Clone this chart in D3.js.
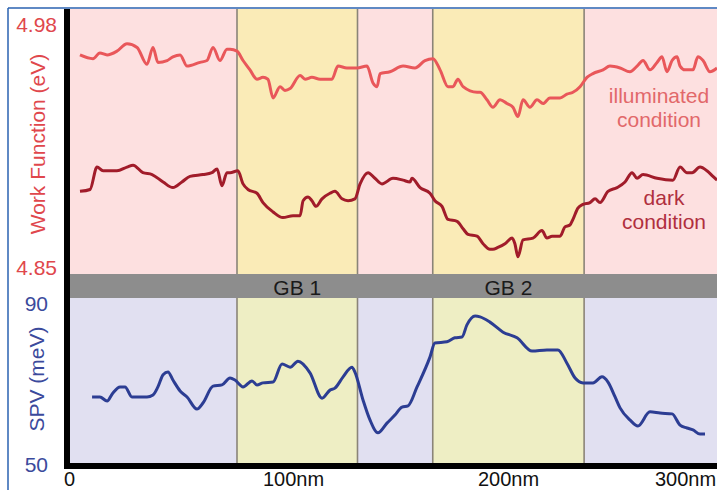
<!DOCTYPE html>
<html><head><meta charset="utf-8">
<script src="https://cdn.jsdelivr.net/npm/d3@7"></script>
<style>body{margin:0;background:#fff}svg{display:block;font-family:"Liberation Sans",Arial,sans-serif}</style>
</head><body><svg id="c" width="717" height="490"></svg>
<script>
const xTickValues=[0,100,200,300];
const xTickLabels=["0","100nm","200nm","300nm"];
const wfTicks=[4.85,4.98];
const spvTicks=[50,90];
const grainBoundaries=[{name:"GB 1",from:75,to:130},{name:"GB 2",from:165,to:243}];
const illuminated=[[4.9,4.964],[10.7,4.962],[13.8,4.965],[17.0,4.964],[21.4,4.966],[25.9,4.970],[30.4,4.968],[34.8,4.959],[37.5,4.968],[39.7,4.960],[43.8,4.961],[46.4,4.963],[49.6,4.964],[52.7,4.958],[58.5,4.960],[61.6,4.961],[64.3,4.968],[67.4,4.961],[70.5,4.967],[71.9,4.967],[75.0,4.966],[77.7,4.961],[80.8,4.956],[83.9,4.951],[86.6,4.952],[88.8,4.951],[91.1,4.941],[94.2,4.947],[96.4,4.945],[98.7,4.946],[103.3,4.953],[105.6,4.951],[108.8,4.952],[112.6,4.951],[118.1,4.951],[120.9,4.958],[125.1,4.957],[129.8,4.957],[134.4,4.958],[137.2,4.949],[139.1,4.947],[140.5,4.954],[145.1,4.955],[151.2,4.958],[156.7,4.957],[161.4,4.961],[165.1,4.962],[168.4,4.956],[172.1,4.947],[174.4,4.947],[176.7,4.951],[179.1,4.947],[185.6,4.944],[187.0,4.944],[190.2,4.940],[193.0,4.936],[196.3,4.940],[199.5,4.938],[202.8,4.936],[205.6,4.931],[208.5,4.940],[212.4,4.936],[216.4,4.940],[219.8,4.938],[223.7,4.941],[229.4,4.941],[233.3,4.943],[236.7,4.944],[240.7,4.947],[244.6,4.952],[248.0,4.954],[253.7,4.956],[257.6,4.958],[263.3,4.957],[268.9,4.955],[272.9,4.958],[276.3,4.961],[280.2,4.956],[284.2,4.960],[287.0,4.963],[289.8,4.955],[292.7,4.961],[295.5,4.963],[297.2,4.958],[300.0,4.956],[304.5,4.956],[307.3,4.963],[310.2,4.961],[314.1,4.955],[318.1,4.957]];
const dark=[[4.9,4.891],[9.4,4.892],[12.5,4.904],[15.2,4.902],[21.4,4.902],[25.9,4.904],[28.6,4.905],[33.0,4.901],[37.1,4.900],[42.0,4.896],[46.4,4.893],[50.4,4.896],[54.0,4.899],[59.8,4.900],[63.8,4.901],[66.1,4.903],[68.3,4.894],[70.5,4.901],[71.9,4.901],[75.4,4.902],[77.7,4.895],[79.9,4.892],[83.9,4.890],[86.6,4.885],[91.1,4.880],[95.5,4.877],[100,4.878],[103.3,4.878],[104.7,4.886],[107.0,4.888],[108.8,4.886],[110.7,4.883],[113.5,4.887],[117.2,4.890],[119.5,4.891],[122.8,4.887],[125.6,4.886],[128.8,4.887],[131.2,4.895],[134.9,4.901],[138.1,4.898],[141.4,4.895],[146.5,4.898],[151.2,4.897],[154.4,4.896],[155.3,4.898],[159.1,4.893],[163.7,4.890],[166.0,4.886],[169.3,4.883],[172.1,4.876],[176.3,4.875],[179.1,4.871],[181.4,4.868],[185.6,4.867],[188.4,4.863],[191.6,4.860],[193.0,4.860],[195.3,4.861],[198.6,4.863],[202.3,4.866],[203.9,4.863],[205.6,4.856],[208.5,4.865],[214.1,4.866],[219.2,4.870],[222.0,4.866],[224.9,4.867],[229.4,4.867],[232.2,4.872],[235.0,4.873],[236.7,4.876],[239.5,4.882],[242.4,4.884],[246.3,4.885],[249.2,4.887],[252.0,4.885],[256.5,4.891],[261.6,4.893],[266.1,4.896],[270.1,4.901],[272.9,4.898],[276.3,4.900],[284.2,4.898],[293.2,4.897],[297.2,4.904],[301.1,4.901],[304.0,4.901],[308.5,4.904],[312.4,4.902],[315.8,4.899],[318.1,4.897]];
const spv=[[10.3,66.9],[13.8,66.9],[17.0,65.9],[19.6,67.9],[22.8,69.4],[25.0,69.4],[28.1,66.9],[31.7,66.9],[34.8,66.9],[37.5,67.4],[39.7,69.4],[42.0,72.4],[44.2,73.1],[46.4,71.1],[49.6,68.4],[52.7,66.9],[57.1,63.9],[59.8,65.4],[64.3,69.6],[68.3,69.9],[71.9,71.6],[74.1,71.1],[77.7,69.4],[81.7,70.9],[83.9,69.9],[86.6,70.4],[91.1,70.6],[95.1,75.1],[98.7,74.3],[102.3,75.8],[107.9,72.9],[113.5,66.6],[117.2,68.6],[119.5,69.1],[123.3,71.9],[127.4,74.3],[128.8,73.1],[132.6,66.1],[135.8,61.2],[139.5,58.0],[143.7,60.4],[147.4,62.4],[150.7,64.4],[153.5,64.7],[157.7,69.4],[163.7,76.8],[166.0,80.3],[171.6,80.6],[175.3,81.6],[178.6,81.8],[180.9,84.8],[184.7,87.0],[187.0,86.8],[191.6,85.5],[197.7,83.0],[205.1,81.6],[213.6,78.3],[222.0,78.6],[228.2,78.6],[233.3,75.3],[237.9,71.6],[242.4,70.4],[248.0,70.4],[253.1,71.9],[256.5,70.6],[260.5,66.9],[263.3,64.2],[268.9,61.2],[273.4,59.7],[280.2,63.2],[285.9,62.9],[292.7,62.7],[297.2,59.9],[301.1,59.2],[304.5,58.7],[308.5,57.7],[311.3,57.7]];

const L=70,R=717,topY0=9,topY1=274,bandY1=298,botY1=463;
const svg=d3.select("#c");
const x=d3.scaleLinear().domain(xTickValues).range([69,293,508,685]);
const yWF=d3.scaleLinear().domain(wfTicks).range([268,25]);
const ySPV=d3.scaleLinear().domain(spvTicks).range([465,304]);

// backgrounds
svg.append("rect").attr("x",L).attr("y",topY0).attr("width",R-L).attr("height",topY1-topY0).attr("fill","#fde0e0");
svg.append("rect").attr("x",L).attr("y",bandY1).attr("width",R-L).attr("height",botY1-bandY1).attr("fill","#e1e0f1");
grainBoundaries.forEach(g=>{
  svg.append("rect").attr("x",x(g.from)).attr("y",topY0).attr("width",x(g.to)-x(g.from)).attr("height",topY1-topY0).attr("fill","#faebb7");
  svg.append("rect").attr("x",x(g.from)).attr("y",bandY1).attr("width",x(g.to)-x(g.from)).attr("height",botY1-bandY1).attr("fill","#eeeec4");
  [g.from,g.to].forEach(v=>svg.append("line").attr("x1",x(v)).attr("x2",x(v)).attr("y1",topY0).attr("y2",botY1).attr("stroke","#8a8478").attr("stroke-width",1.6));
});
svg.append("rect").attr("x",L).attr("y",topY1).attr("width",R-L).attr("height",bandY1-topY1).attr("fill","#8d8d8d");
grainBoundaries.forEach(g=>{
  svg.append("text").attr("x",(x(g.from)+x(g.to))/2).attr("y",295).attr("text-anchor","middle").attr("font-size",21).attr("fill","#1a1a1a").text(g.name);
});

// lines
const mk=(ys)=>d3.line().x(d=>x(d[0])).y(d=>ys(d[1])).curve(d3.curveMonotoneX);
svg.append("defs").append("clipPath").attr("id","cp").append("rect").attr("x",L).attr("y",topY0).attr("width",R-L).attr("height",botY1-topY0);
const lg=svg.append("g").attr("clip-path","url(#cp)");
lg.append("path").datum(illuminated).attr("d",mk(yWF)).attr("fill","none").attr("stroke","#e9575a").attr("stroke-width",3).attr("stroke-linejoin","round");
lg.append("path").datum(dark).attr("d",mk(yWF)).attr("fill","none").attr("stroke","#a11c2a").attr("stroke-width",3).attr("stroke-linejoin","round");
lg.append("path").datum(spv).attr("d",mk(ySPV)).attr("fill","none").attr("stroke","#2c3d93").attr("stroke-width",3).attr("stroke-linejoin","round");

// legends
const leg=(lines,cx,y0,col)=>lines.forEach((t,i)=>svg.append("text").attr("x",cx).attr("y",y0+i*24).attr("text-anchor","middle").attr("font-size",21).attr("fill",col).text(t));
leg(["illuminated","condition"],659,103,"#e2686a");
leg(["dark","condition"],664,205,"#b02f3e");

// black axes
svg.append("rect").attr("x",64).attr("y",topY0).attr("width",6).attr("height",469-topY0).attr("fill","#000");
svg.append("rect").attr("x",64).attr("y",botY1).attr("width",R-64).attr("height",6).attr("fill","#000");

// frame
svg.append("line").attr("x1",8).attr("x2",8).attr("y1",8).attr("y2",490).attr("stroke","#2a62b0").attr("stroke-width",1.5);
svg.append("line").attr("x1",8).attr("x2",717).attr("y1",8).attr("y2",8).attr("stroke","#2a62b0").attr("stroke-width",1.5);

// axes ticks
const ax=svg.append("g").attr("transform","translate(0,469)").call(d3.axisBottom(x).tickValues(xTickValues).tickFormat((d,i)=>xTickLabels[i]).tickSize(0).tickPadding(3));
ax.select(".domain").remove();
ax.selectAll("text").attr("font-size",20).attr("fill","#111").attr("font-family","Liberation Sans, Arial, sans-serif");
const ay1=svg.append("g").attr("transform","translate(70,0)").call(d3.axisLeft(yWF).tickValues(wfTicks).tickFormat(d3.format(".2f")).tickSize(0).tickPadding(13));
ay1.select(".domain").remove();
ay1.selectAll("text").attr("font-size",21).attr("fill","#e0474c").attr("font-family","Liberation Sans, Arial, sans-serif");
const ay2=svg.append("g").attr("transform","translate(70,0)").call(d3.axisLeft(ySPV).tickValues(spvTicks).tickSize(0).tickPadding(22));
ay2.select(".domain").remove();
ay2.selectAll("text").attr("font-size",21).attr("fill","#3b4a9c").attr("font-family","Liberation Sans, Arial, sans-serif");

svg.append("text").attr("transform","translate(45,144) rotate(-90)").attr("text-anchor","middle").attr("font-size",21).attr("fill","#e0474c").text("Work Function (eV)");
svg.append("text").attr("transform","translate(44,379) rotate(-90)").attr("text-anchor","middle").attr("font-size",21).attr("fill","#3b4a9c").text("SPV (meV)");
</script></body></html>
